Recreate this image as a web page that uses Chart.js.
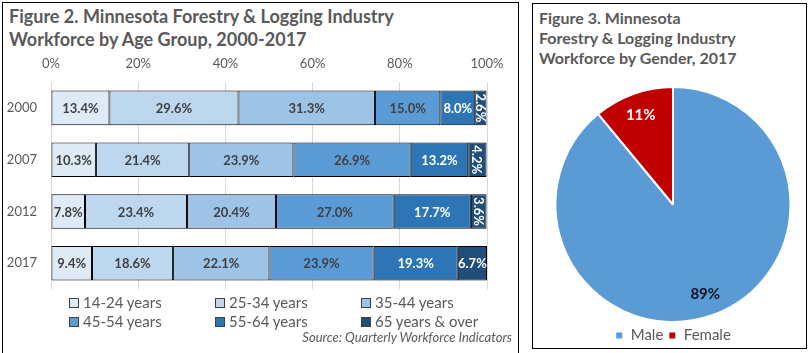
<!DOCTYPE html>
<html>
<head>
<meta charset="utf-8">
<script src="https://cdn.jsdelivr.net/npm/chart.js@4.4.1/dist/chart.umd.min.js"></script>
<style>
  body { margin: 0; width: 810px; height: 353px; background: #fff; position: relative; overflow: hidden; font-family: Lato, 'Open Sans', sans-serif; }
  .panel { position: absolute; border: 1.5px solid #000; box-sizing: border-box; }
  #leftPanel { left: 2px; top: 2px; width: 517px; height: 352px; }
  #rightPanel { left: 532px; top: 3px; width: 275px; height: 346px; }
  .title { position: absolute; font-weight: bold; color: #595959; white-space: nowrap; }
  #title2 { left: 9px; top: 5px; line-height: 23px; font-size: 18px; }
  #title3 { left: 539px; top: 8px; line-height: 20px; font-size: 16px; }
  canvas { position: absolute; }
  #ageChart { left: 4px; top: 50px; }
  #genderChart { left: 537px; top: 86px; }
  #ageLegend { position: absolute; left: 69px; top: 293px; width: 450px; }
  .item { position: absolute; font-size: 15px; color: #595959; white-space: nowrap; line-height: 18px; }
  .box { display: inline-block; width: 8px; height: 8px; border: 1px solid #404040; margin-right: 4px; vertical-align: 0px; }
  #source { position: absolute; right: 298px; top: 329px; font-size: 13px; font-style: italic; color: #595959; }
</style>
</head>
<body>
<div class="panel" id="leftPanel"></div>
<div class="panel" id="rightPanel"></div>
<div class="title" id="title2">Figure 2. Minnesota Forestry &amp; Logging Industry<br>Workforce by Age Group, 2000-2017</div>
<div class="title" id="title3">Figure 3. Minnesota<br>Forestry &amp; Logging Industry<br>Workforce by Gender, 2017</div>
<canvas id="ageChart" width="512" height="261"></canvas>
<div id="ageLegend"></div>
<div id="source">Source: Quarterly Workforce Indicators</div>
<canvas id="genderChart" width="272" height="267"></canvas>
<script>
// age group chart data
const years = ['2000', '2007', '2012', '2017']
const ageGroups = ['14-24 years', '25-34 years', '35-44 years', '45-54 years', '55-64 years', '65 years & over']
const age1424 = [13.4, 10.3, 7.8, 9.4]
const age2534 = [29.6, 21.4, 23.4, 18.6]
const age3544 = [31.3, 23.9, 20.4, 22.1]
const age4554 = [15.0, 26.9, 27.0, 23.9]
const age5564 = [8.0, 13.2, 17.7, 19.3]
const age65up = [2.6, 4.2, 3.6, 6.7]
const xTicks = [0, 20, 40, 60, 80, 100]

// gender chart data
const genders = ['Male', 'Female']
const genderValues = [89, 11]

const ageColors = ['#DEEBF7', '#BDD7EE', '#9DC3E6', '#5B9BD5', '#2E75B6', '#1F4E79']
const ageLabelColors = ['#404040', '#404040', '#404040', '#404040', '#ffffff', '#ffffff']
const genderColors = ['#5B9BD5', '#C00000']
const genderLabelColors = ['#141428', '#ffffff']

Chart.defaults.font.family = 'Lato, "Open Sans", sans-serif'
Chart.defaults.color = '#595959'

// labels inside the bars, rotated when the bar is too narrow
const barLabels = {
  id: 'barLabels',
  afterDatasetsDraw(chart) {
    const ctx = chart.ctx
    ctx.save()
    ctx.font = 'bold 13px Lato, "Open Sans", sans-serif'
    ctx.textAlign = 'center'
    ctx.textBaseline = 'middle'
    chart.data.datasets.forEach((ds, i) => {
      const meta = chart.getDatasetMeta(i)
      meta.data.forEach((bar, j) => {
        const txt = ds.data[j].toFixed(1) + '%'
        const p = bar.getProps(['x', 'base', 'y'], true)
        const w = Math.abs(p.x - p.base)
        const cx = (p.x + p.base) / 2
        ctx.fillStyle = ageLabelColors[i]
        if (ctx.measureText(txt).width > w + 3) {
          ctx.save()
          ctx.translate(cx, p.y)
          ctx.rotate(Math.PI / 2)
          ctx.fillText(txt, 0, 1)
          ctx.restore()
        } else {
          ctx.fillText(txt, cx, p.y + 1)
        }
      })
    })
    ctx.restore()
  },
}

const pieLabels = {
  id: 'pieLabels',
  afterDatasetsDraw(chart) {
    const ctx = chart.ctx
    const meta = chart.getDatasetMeta(0)
    ctx.save()
    ctx.font = 'bold 15px Lato, "Open Sans", sans-serif'
    ctx.textAlign = 'center'
    ctx.textBaseline = 'middle'
    meta.data.forEach((arc, i) => {
      const p = arc.getProps(['x', 'y', 'startAngle', 'endAngle', 'outerRadius'], true)
      const mid = (p.startAngle + p.endAngle) / 2
      const r = p.outerRadius * 0.81
      ctx.fillStyle = genderLabelColors[i]
      ctx.fillText(genderValues[i] + '%', p.x + Math.cos(mid) * r, p.y + Math.sin(mid) * r)
    })
    ctx.restore()
  },
}

const seriesData = [age1424, age2534, age3544, age4554, age5564, age65up]

new Chart(document.getElementById('ageChart'), {
  type: 'bar',
  data: {
    labels: years,
    datasets: ageGroups.map((name, i) => ({
      label: name,
      data: seriesData[i],
      backgroundColor: ageColors[i],
      borderColor: '#000',
      borderWidth: 1,
      borderSkipped: false,
      barPercentage: 0.667,
      categoryPercentage: 1,
    })),
  },
  options: {
    indexAxis: 'y',
    responsive: false,
    animation: false,
    layout: { padding: { left: 0, right: 29, top: 0, bottom: 3 } },
    plugins: { legend: { display: false }, tooltip: { enabled: false } },
    scales: {
      x: {
        position: 'top',
        stacked: true,
        min: 0,
        max: 100,
        afterBuildTicks(scale) {
          scale.ticks = xTicks.map(v => ({ value: v }))
        },
        afterFit(scale) { scale.height = 32 },
        ticks: { padding: 10, font: { size: 13 }, callback: v => v + '%' },
        grid: { color: '#D9D9D9', drawTicks: false },
        border: { display: false },
      },
      y: {
        stacked: true,
        afterFit(scale) { scale.width = 47 },
        ticks: { padding: 14, font: { size: 13 } },
        grid: { display: false, drawTicks: false },
        border: { display: false },
      },
    },
  },
  plugins: [barLabels],
})

// html legend for the age chart, 3 columns
const legendEl = document.getElementById('ageLegend')
ageGroups.forEach((name, i) => {
  const item = document.createElement('div')
  item.className = 'item'
  item.style.left = (i % 3) * 146 + 'px'
  item.style.top = Math.floor(i / 3) * 19 + 'px'
  item.innerHTML = '<span class="box" style="background:' + ageColors[i] + '"></span>' + name.replace('&', '&amp;')
  legendEl.appendChild(item)
})

new Chart(document.getElementById('genderChart'), {
  type: 'pie',
  data: {
    labels: genders,
    datasets: [{
      data: genderValues,
      backgroundColor: genderColors,
      borderColor: '#fff',
      borderWidth: 2,
    }],
  },
  options: {
    responsive: false,
    animation: false,
    layout: { padding: 0 },
    plugins: {
      tooltip: { enabled: false },
      legend: {
        position: 'bottom',
        labels: { boxWidth: 8, boxHeight: 8, padding: 5, font: { size: 15 }, color: '#595959' },
      },
    },
  },
  plugins: [pieLabels],
})
</script>
</body>
</html>
